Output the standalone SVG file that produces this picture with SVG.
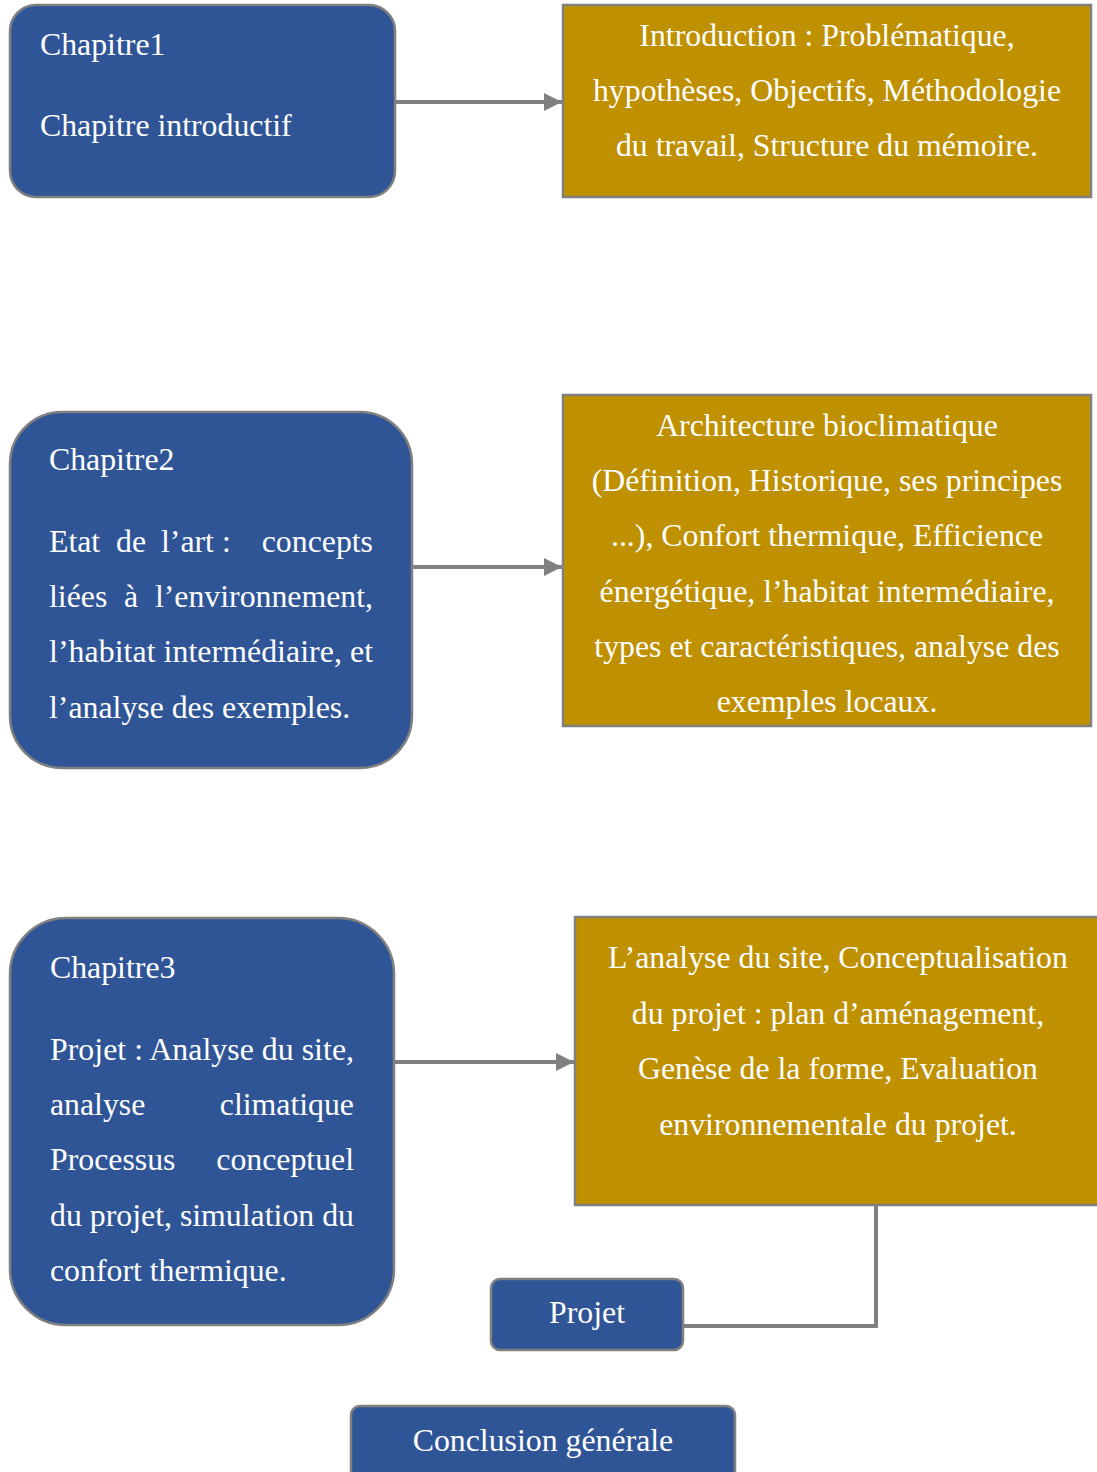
<svg xmlns="http://www.w3.org/2000/svg" width="1097" height="1472" viewBox="0 0 1097 1472">
<style>
.blue{fill:#2F5597;stroke:#808080;stroke-width:2.5}
.gold{fill:#BF9000;stroke:#808080;stroke-width:2.5}
text{font-family:"Liberation Serif","Times New Roman",serif;font-size:31.8px;fill:#ffffff}
.c{text-anchor:middle}
.e{text-anchor:end}
.conn{stroke:#808080;stroke-width:4;fill:none}
</style>
<defs>
<marker id="ah" markerUnits="userSpaceOnUse" markerWidth="20" markerHeight="20" refX="18" refY="10" orient="auto">
<path d="M0,1 L18,10 L0,19 Z" fill="#808080"/>
</marker>
</defs>
<rect width="1097" height="1472" fill="#ffffff"/>
<g id="connectors">
<line class="conn" x1="396" y1="102" x2="562" y2="102" marker-end="url(#ah)"/>
<line class="conn" x1="413" y1="567" x2="562" y2="567" marker-end="url(#ah)"/>
<line class="conn" x1="395" y1="1062" x2="574" y2="1062" marker-end="url(#ah)"/>
<polyline class="conn" points="684,1326 876,1326 876,1206"/>
</g>
<g id="chap1">
<rect class="blue" x="10" y="5" width="385" height="192" rx="26"/>
<text x="40" y="55">Chapitre1</text>
<text x="40" y="136">Chapitre introductif</text>
</g>
<g id="intro">
<rect class="gold" x="563" y="5" width="528" height="192"/>
<text class="c" x="827" y="46">Introduction : Problématique,</text>
<text class="c" x="827" y="101">hypothèses, Objectifs, Méthodologie</text>
<text class="c" x="827" y="156">du travail, Structure du mémoire.</text>
</g>
<g id="chap2">
<rect class="blue" x="10" y="412" width="402" height="356" rx="52"/>
<text x="49" y="470">Chapitre2</text>
<text y="552"><tspan x="49">Etat</tspan><tspan x="116">de</tspan><tspan x="161">l’art :</tspan></text>
<text class="e" x="373" y="552">concepts</text>
<text x="49" y="607"><tspan x="49">liées</tspan><tspan x="124">à</tspan></text>
<text class="e" x="373" y="607">l’environnement,</text>
<text x="49" y="662" textLength="324" lengthAdjust="spacing">l’habitat intermédiaire, et</text>
<text x="49" y="718">l’analyse des exemples.</text>
</g>
<g id="archi">
<rect class="gold" x="563" y="395" width="528" height="331"/>
<text class="c" x="827" y="436">Architecture bioclimatique</text>
<text class="c" x="827" y="491">(Définition, Historique, ses principes</text>
<text class="c" x="827" y="546">...), Confort thermique, Efficience</text>
<text class="c" x="827" y="602">énergétique, l’habitat intermédiaire,</text>
<text class="c" x="827" y="657">types et caractéristiques, analyse des</text>
<text class="c" x="827" y="712">exemples locaux.</text>
</g>
<g id="chap3">
<rect class="blue" x="10" y="918" width="384" height="407" rx="56"/>
<text x="50" y="978">Chapitre3</text>
<text x="50" y="1060" textLength="304" lengthAdjust="spacing">Projet : Analyse du site,</text>
<text x="50" y="1115">analyse</text>
<text class="e" x="354" y="1115">climatique</text>
<text x="50" y="1170">Processus</text>
<text class="e" x="354" y="1170">conceptuel</text>
<text x="50" y="1226" textLength="304" lengthAdjust="spacing">du projet, simulation du</text>
<text x="50" y="1281">confort thermique.</text>
</g>
<g id="analyse">
<rect class="gold" x="575" y="917" width="530" height="288"/>
<text class="c" x="838" y="968">L’analyse du site, Conceptualisation</text>
<text class="c" x="838" y="1024">du projet : plan d’aménagement,</text>
<text class="c" x="838" y="1079">Genèse de la forme, Evaluation</text>
<text class="c" x="838" y="1135">environnementale du projet.</text>
</g>
<g id="projet">
<rect class="blue" x="491" y="1279" width="192" height="71" rx="9"/>
<text class="c" x="587" y="1323">Projet</text>
</g>
<g id="conclusion">
<rect class="blue" x="351" y="1406" width="384" height="80" rx="9"/>
<text class="c" x="543" y="1451">Conclusion générale</text>
</g>
</svg>
